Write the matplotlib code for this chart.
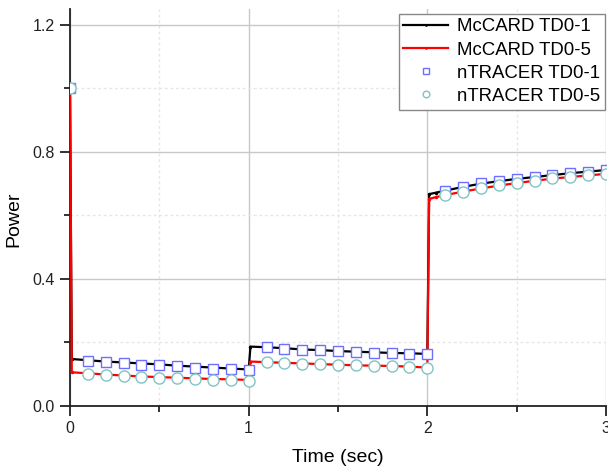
import matplotlib
matplotlib.use("Agg")
import matplotlib.pyplot as plt
from matplotlib.ticker import MultipleLocator

plt.rcParams['font.family'] = ['Liberation Sans', 'DejaVu Sans']

# McCARD reference solutions (time in sec, power)
mc_time = [0.0, 0.01, 0.1, 0.2, 0.3, 0.4, 0.5, 0.6, 0.7, 0.8, 0.9, 1.0,
           1.01, 1.1, 1.2, 1.3, 1.4, 1.5, 1.6, 1.7, 1.8, 1.9, 2.0,
           2.01, 2.05, 2.1, 2.2, 2.3, 2.4, 2.5, 2.6, 2.7, 2.8, 2.9, 3.0]
mc_td01 = [1.0, 0.148, 0.144, 0.140, 0.137, 0.134, 0.131, 0.127, 0.124, 0.121, 0.118, 0.115,
           0.187, 0.185, 0.182, 0.178, 0.176, 0.173, 0.171, 0.169, 0.167, 0.166, 0.164,
           0.667, 0.672, 0.678, 0.690, 0.700, 0.708, 0.715, 0.721, 0.727, 0.733, 0.738, 0.743]
mc_td05 = [1.0, 0.106, 0.103, 0.099, 0.096, 0.093, 0.091, 0.089, 0.087, 0.085, 0.084, 0.082,
           0.140, 0.138, 0.136, 0.134, 0.132, 0.130, 0.128, 0.127, 0.126, 0.124, 0.121,
           0.652, 0.658, 0.664, 0.675, 0.685, 0.694, 0.702, 0.709, 0.716, 0.721, 0.726, 0.731]

# nTRACER results
nt_time = [0.0, 0.1, 0.2, 0.3, 0.4, 0.5, 0.6, 0.7, 0.8, 0.9, 1.0,
           1.1, 1.2, 1.3, 1.4, 1.5, 1.6, 1.7, 1.8, 1.9, 2.0,
           2.1, 2.2, 2.3, 2.4, 2.5, 2.6, 2.7, 2.8, 2.9, 3.0]
nt_td01 = [1.0, 0.142, 0.138, 0.134, 0.130, 0.128, 0.125, 0.121, 0.118, 0.116, 0.113,
           0.185, 0.181, 0.177, 0.175, 0.172, 0.170, 0.168, 0.166, 0.165, 0.164,
           0.678, 0.691, 0.701, 0.709, 0.715, 0.721, 0.728, 0.734, 0.738, 0.744]
nt_td05 = [1.0, 0.102, 0.098, 0.094, 0.091, 0.089, 0.087, 0.085, 0.083, 0.082, 0.080,
           0.138, 0.135, 0.133, 0.132, 0.130, 0.128, 0.127, 0.126, 0.124, 0.120,
           0.665, 0.675, 0.686, 0.696, 0.703, 0.710, 0.717, 0.722, 0.728, 0.732]

labels = ["McCARD TD0-1", "McCARD TD0-5", "nTRACER TD0-1", "nTRACER TD0-5"]

fig = plt.figure(figsize=(6.08, 4.67), dpi=100)
ax = fig.add_axes([70 / 608, 61 / 467, 536 / 608, 397 / 467])

ax.plot(mc_time, mc_td01, color='black', lw=1.6, marker='.', ms=3, label=labels[0], zorder=3)
ax.plot(mc_time, mc_td05, color='#ff0000', lw=1.6, marker='.', ms=3, label=labels[1], zorder=4)
ax.plot(nt_time, nt_td01, ls='none', marker='s', ms=7, mfc='white', mec='#6f6fff', mew=1.0,
        label=labels[2], zorder=5)
ax.plot(nt_time, nt_td05, ls='none', marker='o', ms=8, mfc='white', mec='#7fc4c4', mew=1.0,
        label=labels[3], zorder=6)

ax.set_xlim(0, 3)
ax.set_ylim(0, 1.25)
ax.xaxis.set_major_locator(MultipleLocator(1))
ax.xaxis.set_minor_locator(MultipleLocator(0.5))
ax.yaxis.set_major_locator(MultipleLocator(0.4))
ax.yaxis.set_minor_locator(MultipleLocator(0.2))
ax.xaxis.set_major_formatter(matplotlib.ticker.FormatStrFormatter('%d'))
ax.yaxis.set_major_formatter(matplotlib.ticker.FormatStrFormatter('%.1f'))

ax.grid(True, which='major', color='#c8c8c8', lw=1.0, ls='-')
ax.grid(True, which='minor', color='#e6e6e6', lw=1.0, ls=(0, (2, 2)))
ax.set_axisbelow(True)

for s in ['top', 'right']:
    ax.spines[s].set_visible(False)
for s in ['left', 'bottom']:
    ax.spines[s].set_linewidth(1.3)
    ax.spines[s].set_color('#222222')

ax.tick_params(which='major', direction='out', length=7, width=1.3, labelsize=11.5,
               colors='#222222', pad=4)
ax.tick_params(which='minor', direction='out', length=4, width=1.3, colors='#222222')

ax.set_xlabel("Time (sec)", fontsize=14, labelpad=9)
ax.set_ylabel("Power", fontsize=14)
ax.yaxis.set_label_coords(-0.088, 0.47)

leg = ax.legend(loc='upper right', bbox_to_anchor=(998 / 1000, 0.988), fontsize=13.4, frameon=True,
                fancybox=False, edgecolor='#888888', framealpha=1.0, markerscale=0.6,
                handlelength=2.4, handletextpad=0.5, labelspacing=0.33, borderpad=0.25,
                borderaxespad=0.0)
leg.get_frame().set_linewidth(1.0)
leg.set_zorder(10)

fig.savefig("out.png", dpi=100)
